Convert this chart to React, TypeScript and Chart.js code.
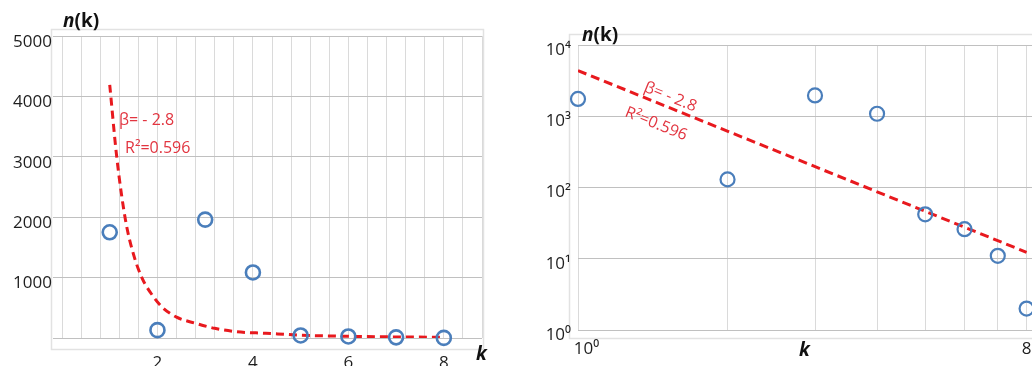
import React, { useEffect, useRef } from 'react';
import { Chart, registerables } from 'chart.js';

Chart.register(...registerables);

// ---- data ----
const kValues = [1, 2, 3, 4, 5, 6, 7, 8];
const nValues = [1750, 130, 1960, 1085, 42, 26, 11, 2];

// fitted power-law curve
const fitK = [1, 1.15, 1.33, 1.5, 1.68, 1.9, 2.1, 2.4, 2.8, 3.2, 3.64, 4.27, 5, 6, 7, 8];
const fitN = [4190, 2975, 1954, 1380, 988, 700, 510, 345, 243, 160, 105, 78, 47, 28, 18, 12];

// fitted line
const logFitK = [1, 8];
const logFitN = [4370, 12.3];

const linearXLabels = [2, 4, 6, 8];
const linearYLabels = [1000, 2000, 3000, 4000, 5000];
const logYTicks = [1, 10, 100, 1000, 10000];
const logYLabels = ['10⁰', '10¹', '10²', '10³', '10⁴'];
const logXTicks = [1, 2, 3, 4, 5, 6, 7, 8];
const logXLabelValues = [1, 8];
const logXLabels = ['\u200310⁰', '8'];

const betaText = 'β= - 2.8';
const r2Text = 'R²=0.596';
const yTitleItalic = 'n';
const yTitleRest = '(k)';
const xTitle = 'k';

// ---- styles ----
const FONT = '"Open Sans", "DejaVu Sans", sans-serif';
const RED = '#e8191e';
const RED_TEXT = '#e23540';
const BLUE = '#4a7ebb';
const H_GRID = '#c0c0c0';
const V_GRID = '#dadada';
const FRAME = '#e2e2e2';
const TICK_COLOR = '#1e1e1e';

type Seg = { t: string; font: string };
type TextItem = {
  segs: Seg[];
  x: number;
  y: number;
  color: string;
  rotate?: number;
};

const overlayPlugin = {
  id: 'overlay',
  beforeDraw(chart: any, _a: any, opts: any) {
    const f = opts.frame;
    if (!f) return;
    const ca = chart.chartArea;
    const ctx = chart.ctx;
    ctx.save();
    ctx.strokeStyle = FRAME;
    ctx.lineWidth = 1.5;
    const l = ca.left - f.l;
    const t = ca.top - f.t;
    const r = ca.right + f.r;
    const b = ca.bottom + f.b;
    ctx.strokeRect(Math.round(l) + 0.5, Math.round(t) + 0.5, Math.round(r - l), Math.round(b - t));
    ctx.restore();
  },
  afterDraw(chart: any, _a: any, opts: any) {
    const items: TextItem[] = opts.texts || [];
    const ctx = chart.ctx;
    for (const it of items) {
      ctx.save();
      ctx.translate(it.x, it.y);
      if (it.rotate) ctx.rotate((it.rotate * Math.PI) / 180);
      ctx.fillStyle = it.color;
      ctx.textBaseline = 'alphabetic';
      ctx.textAlign = 'left';
      let x = 0;
      for (const s of it.segs) {
        ctx.font = s.font;
        ctx.fillText(s.t, x, 0);
        x += ctx.measureText(s.t).width;
      }
      ctx.restore();
    }
  },
};

function titleSegs(size: number): Seg[] {
  return [
    { t: yTitleItalic, font: `italic bold ${size}px ${FONT}` },
    { t: yTitleRest, font: `bold ${size}px ${FONT}` },
  ];
}

function leftConfig(): any {
  return {
    type: 'scatter',
    data: {
      datasets: [
        {
          label: 'fit',
          data: fitK.map((k, i) => ({ x: k, y: fitN[i] })),
          showLine: true,
          borderColor: RED,
          borderWidth: 3,
          borderDash: [8, 5],
          pointRadius: 0,
          cubicInterpolationMode: 'monotone',
          order: 2,
        },
        {
          label: 'n(k)',
          data: kValues.map((k, i) => ({ x: k, y: nValues[i] })),
          pointRadius: 7,
          pointHoverRadius: 7,
          pointBorderWidth: 2.6,
          pointBorderColor: BLUE,
          pointBackgroundColor: 'rgba(255,255,255,0)',
          clip: false,
          order: 1,
        },
      ],
    },
    options: {
      animation: false,
      responsive: false,
      events: [],
      layout: { padding: { top: 36, right: 18, left: 0, bottom: 0 } },
      plugins: {
        legend: { display: false },
        tooltip: { enabled: false },
        overlay: {
          frame: { l: 11, t: 7, r: 1, b: 11 },
          texts: [
            { segs: titleSegs(19), x: 63, y: 27, color: '#111' },
            { segs: [{ t: xTitle, font: `italic bold 19px ${FONT}` }], x: 476, y: 360, color: '#111' },
            { segs: [{ t: betaText, font: `16px ${FONT}` }], x: 119, y: 125, color: RED_TEXT },
            { segs: [{ t: r2Text, font: `16px ${FONT}` }], x: 125, y: 153, color: RED_TEXT },
          ],
        },
      },
      scales: {
        x: {
          type: 'linear',
          min: 0,
          max: 8.8,
          ticks: {
            stepSize: 0.4,
            autoSkip: false,
            maxRotation: 0,
            padding: 15,
            color: TICK_COLOR,
            font: { family: FONT, size: 17 },
            callback: (v: number) => {
              const r = Math.round(v * 10) / 10;
              return linearXLabels.includes(r) ? String(r) : '';
            },
          },
          grid: { color: V_GRID, drawTicks: false, lineWidth: 1 },
          border: { display: false },
          afterFit: (s: any) => {
            s.height = 42;
          },
        },
        y: {
          type: 'linear',
          min: 0,
          max: 5000,
          ticks: {
            stepSize: 1000,
            padding: 1,
            labelOffset: 6,
            color: TICK_COLOR,
            font: { family: FONT, size: 17 },
            callback: (v: number) => (linearYLabels.includes(v) ? String(v) : ''),
          },
          grid: { color: H_GRID, tickLength: 9, lineWidth: 1 },
          border: { display: false },
          afterFit: (s: any) => {
            s.width = 62;
          },
        },
      },
    },
    plugins: [overlayPlugin],
  };
}

function rightConfig(): any {
  return {
    type: 'scatter',
    data: {
      datasets: [
        {
          label: 'fit',
          data: logFitK.map((k, i) => ({ x: k, y: logFitN[i] })),
          showLine: true,
          borderColor: RED,
          borderWidth: 3,
          borderDash: [9, 5],
          pointRadius: 0,
          order: 2,
        },
        {
          label: 'n(k)',
          data: kValues.map((k, i) => ({ x: k, y: nValues[i] })),
          pointRadius: 7,
          pointHoverRadius: 7,
          pointBorderWidth: 2.2,
          pointBorderColor: BLUE,
          pointBackgroundColor: 'rgba(255,255,255,0)',
          clip: false,
          order: 1,
        },
      ],
    },
    options: {
      animation: false,
      responsive: false,
      events: [],
      layout: { padding: { top: 45, right: 28, left: 0, bottom: 0 } },
      plugins: {
        legend: { display: false },
        tooltip: { enabled: false },
        overlay: {
          frame: { l: 9, t: 11, r: 40, b: 8 },
          texts: [
            { segs: titleSegs(19), x: 62, y: 41, color: '#111' },
            { segs: [{ t: xTitle, font: `italic bold 19px ${FONT}` }], x: 279, y: 356, color: '#111' },
            { segs: [{ t: betaText, font: `16px ${FONT}` }], x: 123, y: 91, color: RED_TEXT, rotate: 22 },
            { segs: [{ t: r2Text, font: `16px ${FONT}` }], x: 104, y: 116, color: RED_TEXT, rotate: 22 },
          ],
        },
      },
      scales: {
        x: {
          type: 'logarithmic',
          min: 1,
          max: 9,
          afterBuildTicks: (s: any) => {
            s.ticks = logXTicks.map((v) => ({ value: v }));
          },
          ticks: {
            autoSkip: false,
            maxRotation: 0,
            padding: 9,
            color: TICK_COLOR,
            font: { family: FONT, size: 17 },
            callback: (v: number) => {
              const i = logXLabelValues.indexOf(v);
              return i >= 0 ? logXLabels[i] : '';
            },
          },
          grid: { color: V_GRID, drawTicks: false, lineWidth: 1 },
          border: { display: false },
          afterFit: (s: any) => {
            s.height = 50;
          },
        },
        y: {
          type: 'logarithmic',
          min: 1,
          max: 10000,
          afterBuildTicks: (s: any) => {
            s.ticks = logYTicks.map((v) => ({ value: v }));
          },
          ticks: {
            autoSkip: false,
            padding: 7,
            labelOffset: 5,
            color: TICK_COLOR,
            font: { family: FONT, size: 17 },
            callback: (v: number) => {
              const i = logYTicks.indexOf(v);
              return i >= 0 ? logYLabels[i] : '';
            },
          },
          grid: { color: H_GRID, drawTicks: false, lineWidth: 1 },
          border: { display: false },
          afterFit: (s: any) => {
            s.width = 58;
          },
        },
      },
    },
    plugins: [overlayPlugin],
  };
}

function ChartCanvas(props: { make: () => any; left: number; width: number; height: number }) {
  const ref = useRef<HTMLCanvasElement | null>(null);
  useEffect(() => {
    if (!ref.current) return;
    const chart = new Chart(ref.current, props.make());
    return () => chart.destroy();
  }, []);
  return (
    <canvas
      ref={ref}
      width={props.width}
      height={props.height}
      style={{
        position: 'absolute',
        left: props.left,
        top: 0,
        width: props.width,
        height: props.height,
        display: 'block',
      }}
    />
  );
}

export default function App() {
  return (
    <div
      style={{
        position: 'fixed',
        left: 0,
        top: 0,
        width: 1032,
        height: 366,
        overflow: 'hidden',
        background: '#ffffff',
      }}
    >
      <ChartCanvas make={leftConfig} left={0} width={500} height={380} />
      <ChartCanvas make={rightConfig} left={520} width={560} height={380} />
    </div>
  );
}
